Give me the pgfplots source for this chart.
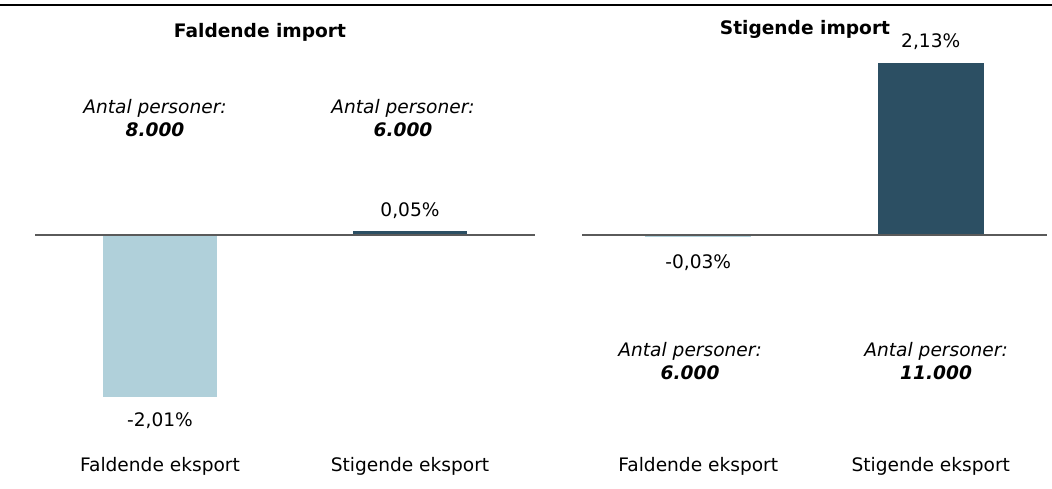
\documentclass[border=0pt]{standalone}
\usepackage{pgfplots}
\pgfplotsset{compat=1.18}
\usepackage{fontspec}
\setmainfont{DejaVu Sans}
\definecolor{lightbar}{RGB}{176,208,218}
\definecolor{darkbar}{RGB}{44,79,99}
\definecolor{zeroline}{RGB}{90,90,90}
\begin{document}
\fontsize{9.3}{11.5}\selectfont
\begin{tikzpicture}
\path[use as bounding box] (0pt,0pt) rectangle (526pt,244pt);
\draw[line width=1pt] (0pt,241.5pt) -- (526pt,241.5pt);
\pgfplotsset{panel/.style={
  scale only axis, height=215.5pt,
  ymin=-2.68, ymax=2.667, xmin=-0.5, xmax=1.5,
  axis line style={draw=none}, ytick=\empty,
  xtick={0,1}, xticklabels={Faldende eksport, Stigende eksport},
  major tick length=0pt, clip=false, anchor=south west,
  xticklabel style={font=\fontsize{9.3}{11.5}\selectfont, text=black},
  every node/.append style={font=\fontsize{9.3}{11.5}\selectfont}
}}
% Left panel
\begin{axis}[panel, width=250pt, at={(17.5pt,18.5pt)}]
\addplot[ybar, bar width=57pt, bar shift=0pt, fill=lightbar, draw=none] coordinates {(0,-2.01)};
\addplot[ybar, bar width=57pt, bar shift=0pt, fill=darkbar, draw=none] coordinates {(1,0.05)};
\draw[zeroline, line width=0.6pt] (axis cs:-0.5,0) -- (axis cs:1.5,0);
\node at (axis cs:0,-2.308) {-2,01\%};
\node at (axis cs:1,0.298) {0,05\%};
\node[align=center] at (axis cs:-0.02,1.45) {\itshape Antal personer:\\\bfseries\itshape 8.000};
\node[align=center] at (axis cs:0.972,1.45) {\itshape Antal personer:\\\bfseries\itshape 6.000};
\node at (axis cs:0.4,2.519) {\bfseries Faldende import};
\end{axis}
% Right panel
\begin{axis}[panel, width=232.5pt, at={(291pt,18.5pt)}]
\addplot[ybar, bar width=53pt, bar shift=0pt, fill=lightbar, draw=none] coordinates {(0,-0.03)};
\addplot[ybar, bar width=53pt, bar shift=0pt, fill=darkbar, draw=none] coordinates {(1,2.13)};
\draw[zeroline, line width=0.6pt] (axis cs:-0.5,0) -- (axis cs:1.5,0);
\node at (axis cs:0,-0.347) {-0,03\%};
\node at (axis cs:1,2.395) {2,13\%};
\node[align=center] at (axis cs:-0.035,-1.57) {\itshape Antal personer:\\\bfseries\itshape 6.000};
\node[align=center] at (axis cs:1.023,-1.57) {\itshape Antal personer:\\\bfseries\itshape 11.000};
\node at (axis cs:0.459,2.556) {\bfseries Stigende import};
\end{axis}
\end{tikzpicture}
\end{document}
